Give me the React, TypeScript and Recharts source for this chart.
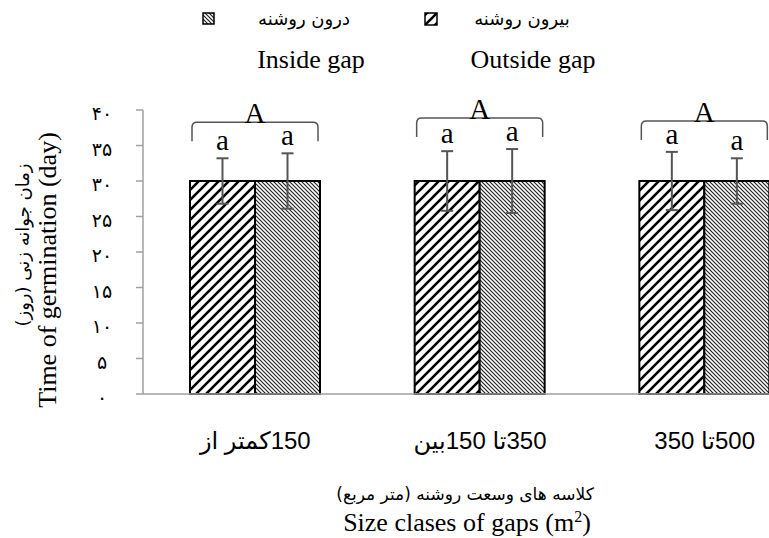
import { BarChart, Bar, XAxis, YAxis, ErrorBar, LabelList } from "recharts";

// gap size classes (Persian labels, kept as typed in the source figure)
const categories = ["150کمتر از", "350تا 150بین", "500تا 350"];
const outsideGap = [30, 30, 30];
const insideGap = [30, 30, 30];
const outsideErr = [3.2, 4.2, 4.1];
const insideErr = [3.9, 4.5, 3.2];
const groupLetters = ["A", "A", "A"];
const outsideLetters = ["a", "a", "a"];
const insideLetters = ["a", "a", "a"];
const yTicks = [0, 5, 10, 15, 20, 25, 30, 35, 40];

const data = categories.map((name, i) => ({
  name,
  outside: outsideGap[i],
  inside: insideGap[i],
  outsideErr: outsideErr[i],
  insideErr: insideErr[i],
}));

const SERIF = '"Liberation Serif", "Times New Roman", serif';
const FA = '"DejaVu Sans", sans-serif';
const SANS = '"Liberation Sans", "DejaVu Sans", sans-serif';
const FA_DIGITS = "۰۱۲۳۴۵۶۷۸۹";
const toFa = (n: number) => String(n).replace(/\d/g, (d) => FA_DIGITS[+d]);
// right-to-left embedding so the mixed labels lay out like the original
const rtl = (s: string) => "\u202B" + s + "\u202C";

const box = (p: any) => {
  const vb = p.viewBox || {};
  return {
    x: Number(p.x ?? vb.x),
    y: Number(p.y ?? vb.y),
    width: Number(p.width ?? vb.width),
    height: Number(p.height ?? vb.height),
  };
};

// letters + bracket drawn from the left (outside) bar of each group
const OutsideMarks = (p: any) => {
  const { x, y, width, height } = box(p);
  const i = p.index;
  const unit = height / outsideGap[i];
  const base = y + height;
  const topOut = y - outsideErr[i] * unit;
  const topIn = base - (insideGap[i] + insideErr[i]) * unit;
  const by = Math.min(topOut, topIn) - 31;
  const x0 = x + 2;
  const x1 = x + 2 * width - 2;
  return (
    <g>
      <text x={x + width / 2} y={topOut - 8} textAnchor="middle" fontFamily={SERIF} fontSize={29} fill="#000">
        {outsideLetters[i]}
      </text>
      <path
        d={`M${x0},${by + 19} L${x0},${by + 5} Q${x0},${by} ${x0 + 5},${by} L${x1 - 5},${by} Q${x1},${by} ${x1},${by + 5} L${x1},${by + 19}`}
        fill="none"
        stroke="#555"
        strokeWidth={1.5}
      />
      <text x={x + width} y={by + 1} textAnchor="middle" fontFamily={SERIF} fontSize={29} fill="#000">
        {groupLetters[i]}
      </text>
    </g>
  );
};

const InsideMarks = (p: any) => {
  const { x, y, width, height } = box(p);
  const i = p.index;
  const unit = height / insideGap[i];
  const top = y - insideErr[i] * unit;
  return (
    <text x={x + width / 2} y={top - 8} textAnchor="middle" fontFamily={SERIF} fontSize={29} fill="#000">
      {insideLetters[i]}
    </text>
  );
};

const XTick = (p: any) => (
  <text x={p.x} y={p.y + 55} textAnchor="middle" fontFamily={SANS} fontSize={24} fill="#000">
    {rtl(p.payload.value)}
  </text>
);

const YTick = (p: any) => (
  <text x={p.x} y={p.y + 3} textAnchor="middle" dominantBaseline="central" fontFamily={FA} fontSize={19} fill="#000">
    {toFa(p.payload.value)}
  </text>
);

export default function App() {
  return (
    <div style={{ position: "relative", width: 769, height: 538, overflow: "hidden" }}>
      <style>{`body{margin:0;overflow:hidden}`}</style>
      <svg width={0} height={0} style={{ position: "absolute" }}>
        <defs>
          <pattern id="hatchOut" patternUnits="userSpaceOnUse" width={10} height={10}>
            <rect width={10} height={10} fill="#fff" />
            <path d="M-2,2 L2,-2 M0,10 L10,0 M8,12 L12,8" stroke="#000" strokeWidth={2.6} />
          </pattern>
          <pattern id="hatchIn" patternUnits="userSpaceOnUse" width={4} height={4}>
            <rect width={4} height={4} fill="#fff" />
            <path d="M0,0 L4,4 M-1,3 L1,5 M3,-1 L5,1" stroke="#222" strokeWidth={1.2} />
          </pattern>
        </defs>
      </svg>
      <BarChart
        width={817}
        height={538}
        data={data}
        margin={{ top: 110, right: 0, bottom: 84, left: 0 }}
        barSize={65}
        barGap={0}
      >
        <XAxis
          dataKey="name"
          height={60}
          tickLine={false}
          tickSize={0}
          tickMargin={0}
          tick={<XTick />}
          axisLine={{ stroke: "#a0a0a0", strokeWidth: 1.5 }}
        />
        <YAxis
          width={143}
          domain={[0, 40]}
          ticks={yTicks}
          interval={0}
          tickSize={7}
          tickMargin={34}
          tick={<YTick />}
          tickLine={{ stroke: "#a0a0a0", strokeWidth: 1.5 }}
          axisLine={{ stroke: "#a0a0a0", strokeWidth: 1.5 }}
        />
        <Bar dataKey="outside" fill="url(#hatchOut)" stroke="#000" strokeWidth={2} isAnimationActive={false}>
          <ErrorBar dataKey="outsideErr" width={6} stroke="#555" strokeWidth={2} direction="y" isAnimationActive={false} />
          <LabelList dataKey="outside" content={<OutsideMarks />} />
        </Bar>
        <Bar dataKey="inside" fill="url(#hatchIn)" stroke="#000" strokeWidth={2} isAnimationActive={false}>
          <ErrorBar dataKey="insideErr" width={6} stroke="#555" strokeWidth={2} direction="y" isAnimationActive={false} />
          <LabelList dataKey="inside" content={<InsideMarks />} />
        </Bar>
      </BarChart>
      <svg
        width={769}
        height={538}
        style={{ position: "absolute", left: 0, top: 0, pointerEvents: "none" }}
      >
        {/* legend */}
        <rect x={203} y={13} width={11} height={11} fill="url(#hatchIn)" stroke="#000" strokeWidth={1.5} />
        <text x={304} y={18} textAnchor="middle" dominantBaseline="central" fontFamily={FA} fontSize={18}>
          {rtl("درون روشنه")}
        </text>
        <rect x={425} y={13} width={12} height={12} fill="url(#hatchOut)" stroke="#000" strokeWidth={1.5} />
        <text x={522} y={18} textAnchor="middle" dominantBaseline="central" fontFamily={FA} fontSize={18}>
          {rtl("بیرون روشنه")}
        </text>
        <text x={311} y={68} textAnchor="middle" fontFamily={SERIF} fontSize={26}>
          Inside gap
        </text>
        <text x={533} y={68} textAnchor="middle" fontFamily={SERIF} fontSize={26}>
          Outside gap
        </text>
        {/* y titles */}
        <text
          transform="translate(22,245) rotate(-90)"
          textAnchor="middle"
          dominantBaseline="central"
          fontFamily={FA}
          fontSize={18}
        >
          {rtl("زمان جوانه زنی (روز)")}
        </text>
        <text
          transform="translate(47,270) rotate(-90)"
          textAnchor="middle"
          dominantBaseline="central"
          fontFamily={SERIF}
          fontSize={26}
        >
          Time of germination (day)
        </text>
        {/* x titles */}
        <text x={465} y={494} textAnchor="middle" dominantBaseline="central" fontFamily={FA} fontSize={17}>
          {rtl("کلاسه های وسعت روشنه (متر مربع)")}
        </text>
        <text x={467} y={531} textAnchor="middle" fontFamily={SERIF} fontSize={26}>
          Size clases of gaps (m<tspan dy={-9} fontSize={16}>2</tspan>
          <tspan dy={9}>)</tspan>
        </text>
      </svg>
    </div>
  );
}
